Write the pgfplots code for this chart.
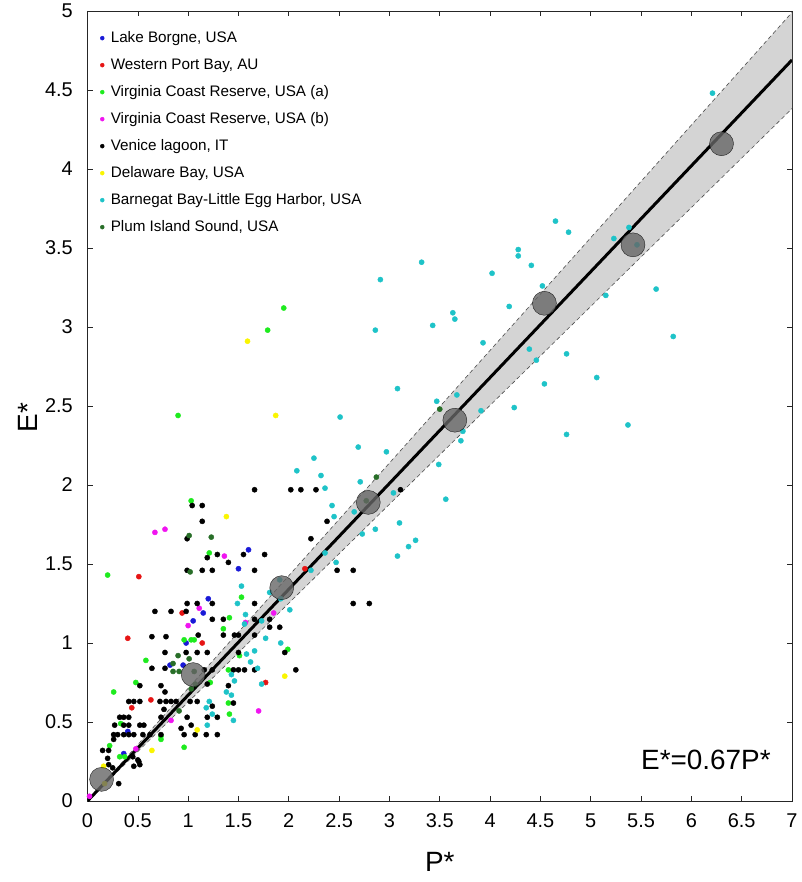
\documentclass[border=0pt]{standalone}
\usepackage{fontspec}
\setmainfont{Liberation Sans}
\usepackage{pgfplots}
\pgfplotsset{compat=1.18}
\definecolor{cBlue}{RGB}{25,25,215}
\definecolor{cRed}{RGB}{230,20,20}
\definecolor{cGreen}{RGB}{30,235,30}
\definecolor{cMag}{RGB}{240,20,240}
\definecolor{cYel}{RGB}{250,245,0}
\definecolor{cCyan}{RGB}{30,195,200}
\definecolor{cDkG}{RGB}{40,110,40}
\definecolor{cBand}{RGB}{212,212,212}
\begin{document}
\begin{tikzpicture}
\useasboundingbox (-87.5bp,-81bp) rectangle (714.5bp,801bp);
\begin{axis}[
  scale only axis, width=704.5bp, height=790bp,
  xmin=0, xmax=7, ymin=0, ymax=5,
  xtick={0,0.5,...,7}, ytick={0,0.5,...,5},
  tick align=inside, major tick length=5bp,
  axis line style={line width=0.8bp, black!85},
  tick style={line width=0.6bp, black!85},
  /pgf/number format/assume math mode=true,
  ticklabel style={font=\fontsize{20}{24}\selectfont},
  xticklabel style={inner sep=0pt, yshift=-12.5bp},
  yticklabel style={inner sep=0pt, xshift=-14.5bp},
  xlabel={P*}, ylabel={E*},
  xlabel style={at={(axis description cs:0.5,0)}, anchor=north, yshift=-50.7bp, inner sep=0pt, font=\fontsize{28}{32}\selectfont},
  ylabel style={at={(axis description cs:-0.0703,0.485)}, anchor=south, inner sep=0pt, font=\fontsize{28}{32}\selectfont},
  legend style={at={(axis cs:0.125,4.88)}, anchor=north west, draw=none, fill=none, inner sep=0pt, row sep=11bp, column sep=5.5bp,
    font=\fontsize{15.3}{18}\selectfont, nodes={inner sep=1bp, text height=11bp, text depth=3bp}},
  legend cell align=left,
  legend image code/.code={\draw[mark repeat=2, mark phase=2, #1, mark size=2bp] plot coordinates {(-4bp,0bp) (0bp,0bp) (4bp,0bp)};},
]
% confidence band
\addplot[fill=cBand, draw=none, forget plot] coordinates {(0,0) (7,4.991) (7,4.382) (0,0)} -- cycle;
\addplot[black!70, line width=0.6bp, dash pattern=on 4bp off 3bp, forget plot] coordinates {(0,0) (7,4.991)};
\addplot[black!70, line width=0.6bp, dash pattern=on 4bp off 3bp, forget plot] coordinates {(0,0) (7,4.382)};

\addplot[only marks, mark=*, mark size=2.6bp, color=cBlue] coordinates {
(1.60,1.59) (1.50,1.47) (1.20,1.28) (1.15,1.19) (1.05,1.14) (0.98,1.00) (0.82,0.86) (0.95,0.86) (0.40,0.44) (0.36,0.30)};
\addlegendentry{Lake Borgne, USA}
\addplot[only marks, mark=*, mark size=2.6bp, color=cRed] coordinates {
(0.51,1.42) (0.40,1.03) (0.94,1.19) (1.14,1.00) (0.63,0.64) (0.44,0.59) (1.77,0.75) (2.16,1.47)};
\addlegendentry{Western Port Bay, AU}
\addplot[only marks, mark=*, mark size=2.6bp, color=cGreen] coordinates {
(1.95,3.12) (1.79,2.98) (0.90,2.44) (1.03,1.90) (1.21,1.57) (0.20,1.43) (1.53,1.29) (0.96,1.02) (1.03,1.02) (1.06,1.02)
(1.41,1.16) (1.35,1.09) (0.58,0.89) (1.51,0.92) (1.99,0.96) (1.40,0.83) (1.22,0.75) (0.48,0.75) (0.26,0.69) (1.40,0.62)
(1.41,0.55) (0.73,0.41) (0.73,0.39) (0.96,0.34) (0.22,0.35) (0.32,0.28) (0.37,0.28) (0.33,0.49)};
\addlegendentry{Virginia Coast Reserve, USA (a)}
\addplot[only marks, mark=*, mark size=2.6bp, color=cMag] coordinates {
(0.67,1.70) (0.77,1.72) (1.36,1.55) (1.11,1.22) (1.00,1.11) (1.85,1.19) (1.57,1.13) (0.83,0.51) (1.70,0.57) (0.48,0.33) (0.02,0.03)};
\addlegendentry{Virginia Coast Reserve, USA (b)}
\addplot[only marks, mark=*, mark size=2.6bp, color=black] coordinates {
(1.66,1.97) (2.02,1.97) (2.12,1.97) (2.27,1.97) (3.11,1.97)
(1.04,1.87) (1.14,1.87) (1.14,1.77) (2.38,1.77)
(0.99,1.66) (2.22,1.66)
(1.19,1.54) (1.29,1.56) (1.40,1.51) (1.55,1.56) (1.76,1.56)
(0.99,1.46) (1.14,1.46) (1.24,1.46) (1.66,1.46) (2.48,1.46) (2.64,1.46)
(2.64,1.25) (2.80,1.25)
(0.99,1.25) (1.09,1.25) (1.24,1.25) (1.66,1.25)
(0.67,1.20) (0.83,1.20) (0.98,1.20)
(1.24,1.15) (1.35,1.15) (1.66,1.15) (1.81,1.15)
(1.81,1.10) (1.91,1.10)
(0.64,1.04) (0.78,1.04) (1.10,1.05) (1.35,1.05) (1.46,1.05) (1.50,1.05) (1.66,1.05)
(0.77,0.94) (0.98,0.94) (1.09,0.94) (1.19,0.94) (1.50,0.94) (1.96,0.94)
(0.64,0.84) (0.77,0.84) (1.16,0.83) (1.24,0.83) (1.45,0.83) (1.50,0.83) (1.56,0.83) (1.66,0.83) (2.07,0.83)
(0.52,0.73) (0.73,0.73) (1.19,0.74) (1.40,0.73) (0.77,0.69)
(0.41,0.63) (0.46,0.63) (0.52,0.63) (0.72,0.63) (0.78,0.63) (0.83,0.63) (0.88,0.63) (1.02,0.63) (1.09,0.63) (1.24,0.60) (1.45,0.62)
(0.76,0.58) (0.73,0.53) (0.99,0.53) (1.19,0.53) (1.29,0.53) (0.32,0.53) (0.36,0.53) (0.41,0.53)
(0.27,0.48) (0.36,0.48) (0.41,0.48) (0.52,0.48) (0.56,0.48) (0.93,0.46) (1.03,0.48)
(0.26,0.42) (0.30,0.42) (0.36,0.42) (0.41,0.42) (0.46,0.42) (0.55,0.42) (0.62,0.42) (0.73,0.42) (0.96,0.42) (1.07,0.42) (1.18,0.42) (1.29,0.42)
(0.26,0.39) (0.15,0.32) (0.21,0.32) (0.45,0.28) (0.50,0.26) (0.51,0.25) (0.46,0.22) (0.52,0.23) (0.20,0.27) (0.21,0.23) (0.25,0.21) (0.31,0.11)};
\addlegendentry{Venice lagoon, IT}
\addplot[only marks, mark=*, mark size=2.6bp, color=cYel] coordinates {
(1.59,2.91) (1.87,2.44) (1.38,1.80) (1.96,0.79) (1.09,0.45) (0.64,0.32) (0.16,0.22) (0.17,0.11)};
\addlegendentry{Delaware Bay, USA}
\addplot[only marks, mark=*, mark size=2.6bp, color=cCyan] coordinates {
(6.21,4.48) (4.65,3.67) (4.78,3.60) (5.23,3.56) (5.38,3.63) (5.46,3.52) (4.28,3.49) (4.28,3.45) (4.41,3.39) (4.02,3.34)
(4.52,3.26) (5.15,3.20) (5.65,3.24) (4.19,3.13) (3.63,3.09) (3.65,3.05) (5.82,2.94) (3.93,2.90) (4.39,2.86) (4.46,2.79)
(4.76,2.83) (5.06,2.68) (4.54,2.64) (3.67,2.57) (4.24,2.49) (3.91,2.47) (3.73,2.34) (3.71,2.28) (4.76,2.32) (5.37,2.38)
(3.32,3.41) (2.91,3.30) (3.43,3.01) (2.86,2.98) (3.08,2.61) (3.47,2.53) (2.51,2.43) (2.69,2.24) (2.97,2.21) (2.25,2.17)
(2.08,2.09) (2.32,2.06) (3.49,2.13) (2.71,2.02) (2.36,1.98) (3.04,1.95) (3.56,1.91) (2.43,1.87) (2.45,1.80) (2.65,1.83)
(3.10,1.76) (2.86,1.72) (2.73,1.69) (3.26,1.65) (3.19,1.61) (3.08,1.55) (2.36,1.57) (2.47,1.51) (2.22,1.46) (2.01,1.21)
(1.53,1.36) (1.81,1.32) (1.91,1.40) (1.92,1.28) (1.49,1.25) (1.57,1.18) (1.56,1.12) (1.73,1.14) (1.77,1.03) (1.92,1.00)
(1.58,0.93) (1.66,0.95) (1.62,0.88) (1.69,0.84) (1.43,0.80) (1.46,0.76) (1.73,0.74) (1.38,0.69) (1.43,0.67) (1.21,0.63)
(1.18,0.59) (1.24,0.55) (1.45,0.51) (1.19,0.48)};
\addlegendentry{Barnegat Bay-Little Egg Harbor, USA}
\addplot[only marks, mark=*, mark size=2.6bp, color=cDkG] coordinates {
(3.50,2.48) (2.87,2.05) (2.77,1.90) (1.01,1.68) (1.23,1.67) (1.02,1.45) (0.85,0.87) (1.01,0.90) (0.90,0.92) (0.85,0.82)
(0.91,0.82) (1.06,0.82) (1.07,0.74) (1.03,0.71) (0.91,0.57)};
\addlegendentry{Plum Island Sound, USA}

% regression line
\addplot[black, line width=3bp, forget plot] coordinates {(0,0) (7,4.69)};
% bin averages
\addplot[only marks, mark=*, mark size=12bp, mark options={fill=black!60, draw=none, opacity=0.8}, forget plot] coordinates {
(0.14,0.137) (1.05,0.80) (1.93,1.35) (2.79,1.89) (3.65,2.41) (4.54,3.15) (5.42,3.52) (6.30,4.16)};

\node[anchor=east, inner sep=0pt, font=\fontsize{28}{32}\selectfont] at (axis cs:6.79,0.262) {E*=0.67P*};
\end{axis}
\end{tikzpicture}
\end{document}
